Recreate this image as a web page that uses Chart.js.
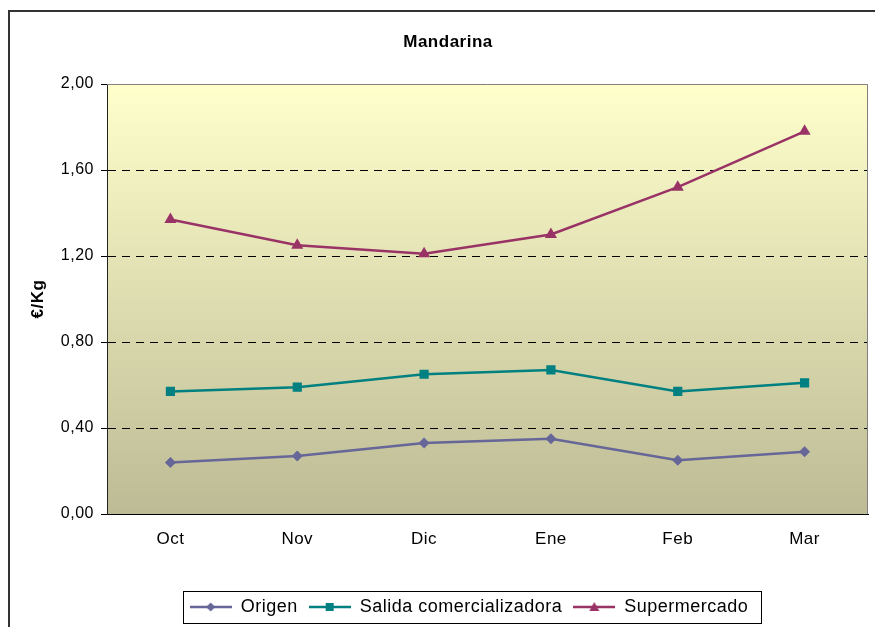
<!DOCTYPE html>
<html lang="es">
<head>
  <meta charset="UTF-8" />
  <title>Mandarina</title>
  <script src="https://cdn.jsdelivr.net/npm/chart.js"></script>
  <style>
    body { margin: 0; background: #fff; }
    canvas { display: block; }
  </style>
</head>
<body>
  <canvas id="precios" width="875" height="627"></canvas>

  <script>
    const meses = ["Oct", "Nov", "Dic", "Ene", "Feb", "Mar"];
    const origen = [0.24, 0.27, 0.33, 0.35, 0.25, 0.29];
    const salidaComercializadora = [0.57, 0.59, 0.65, 0.67, 0.57, 0.61];
    const supermercado = [1.37, 1.25, 1.21, 1.30, 1.52, 1.78];
    const yTicks = [0, 0.4, 0.8, 1.2, 1.6, 2.0];

    const FONT = "'Liberation Sans', Arial, sans-serif";
    const legendShiftX = 21;

    // small line + marker image used as the legend symbol
    function legendIcon(color, shape) {
      const c = document.createElement("canvas");
      c.width = 42; c.height = 12;
      const g = c.getContext("2d");
      g.strokeStyle = color;
      g.lineWidth = 2.5;
      g.beginPath(); g.moveTo(0, 6); g.lineTo(42, 6); g.stroke();
      g.fillStyle = color;
      g.beginPath();
      if (shape === "diamond") {
        g.moveTo(21, 1.5); g.lineTo(25.5, 6); g.lineTo(21, 10.5); g.lineTo(16.5, 6);
      } else if (shape === "square") {
        g.rect(17, 2, 8, 8);
      } else {
        g.moveTo(21, 1); g.lineTo(26, 10); g.lineTo(16, 10);
      }
      g.closePath();
      g.fill();
      return c;
    }

    const legendIcons = [
      legendIcon("#666699", "diamond"),
      legendIcon("#008080", "square"),
      legendIcon("#993366", "triangle")
    ];

    const decor = {
      id: "decor",
      afterInit(chart) {
        // slightly wider text run
        chart.ctx.letterSpacing = "0.5px";
      },
      afterLayout(chart) {
        const lg = chart.legend;
        lg.left += legendShiftX;
        lg.right += legendShiftX;
        lg.legendHitBoxes.forEach(h => { h.left += legendShiftX; });
      },
      beforeDraw(chart) {
        const { ctx, chartArea: a } = chart;
        ctx.save();
        // outer frame
        ctx.strokeStyle = "#333";
        ctx.lineWidth = 2;
        ctx.strokeRect(9, 11, 920, 700);
        // plot area background
        const grad = ctx.createLinearGradient(0, a.top, 0, a.bottom);
        grad.addColorStop(0, "#FFFFCC");
        grad.addColorStop(1, "#BDBB95");
        ctx.fillStyle = grad;
        ctx.fillRect(a.left, a.top, a.right - a.left, a.bottom - a.top);
        ctx.restore();
      },
      beforeDatasetsDraw(chart) {
        const { ctx, chartArea: a } = chart;
        ctx.save();
        ctx.strokeStyle = "#808080";
        ctx.lineWidth = 1;
        ctx.beginPath();
        ctx.moveTo(a.left, a.top + 0.5);
        ctx.lineTo(a.right - 0.5, a.top + 0.5);
        ctx.lineTo(a.right - 0.5, a.bottom);
        ctx.stroke();
        ctx.restore();
      },
      afterDraw(chart) {
        const { ctx } = chart;
        const boxes = chart.legend.legendHitBoxes;
        if (!boxes.length) return;
        const x0 = Math.min(...boxes.map(b => b.left)) - 7;
        const x1 = Math.max(...boxes.map(b => b.left + b.width)) + 12;
        const y0 = boxes[0].top - 7;
        const y1 = boxes[0].top + boxes[0].height + 7;
        ctx.save();
        ctx.strokeStyle = "#000";
        ctx.lineWidth = 1;
        ctx.strokeRect(Math.round(x0) + 0.5, Math.round(y0) + 0.5, Math.round(x1 - x0), Math.round(y1 - y0));
        ctx.restore();
      }
    };

    function serie(label, data, color, pointStyle, radius) {
      return {
        label,
        data,
        borderColor: color,
        backgroundColor: color,
        borderWidth: 2.5,
        pointStyle,
        pointRadius: radius,
        pointBorderWidth: 0,
        pointBackgroundColor: color,
        tension: 0
      };
    }

    new Chart(document.getElementById("precios"), {
      type: "line",
      data: {
        labels: meses,
        datasets: [
          serie("Origen", origen, "#666699", "rectRot", 5.5),
          serie("Salida comercializadora", salidaComercializadora, "#008080", "rect", 6.5),
          serie("Supermercado", supermercado, "#993366", "triangle", 7)
        ]
      },
      options: {
        responsive: false,
        devicePixelRatio: 1,
        animation: false,
        layout: { padding: { left: 27, right: 6, top: 0, bottom: 1 } },
        scales: {
          x: {
            offset: true,
            afterFit: s => { s.height = 73; },
            grid: { display: false, drawTicks: false },
            border: { display: true, color: "#000", width: 1 },
            ticks: { color: "#000", font: { family: FONT, size: 17 }, padding: 15 }
          },
          y: {
            min: 0,
            max: 2,
            afterFit: s => { s.width = 80; },
            afterBuildTicks: s => { s.ticks = yTicks.map(v => ({ value: v })); },
            grid: {
              color: c => (c.tick && (c.tick.value === 0 || c.tick.value === 2)) ? "rgba(0,0,0,0)" : "#000",
              tickColor: "#000",
              tickLength: 6,
              tickBorderDash: [],
              lineWidth: 1
            },
            border: { display: true, color: "#222", width: 1, dash: [8, 6] },
            ticks: {
              color: "#000",
              font: { family: FONT, size: 16 },
              padding: 7,
              callback: v => v.toFixed(2).replace(".", ",")
            },
            title: {
              display: true,
              text: "€/Kg",
              color: "#000",
              font: { family: FONT, size: 17, weight: "bold" },
              padding: { top: 1, bottom: 0 }
            }
          }
        },
        plugins: {
          title: {
            display: true,
            text: "Mandarina",
            color: "#000",
            font: { family: FONT, size: 17, weight: "bold" },
            padding: { top: 32, bottom: 31.6 }
          },
          legend: {
            position: "bottom",
            labels: {
              color: "#000",
              font: { family: FONT, size: 18 },
              usePointStyle: true,
              pointStyleWidth: 42,
              padding: 11,
              generateLabels(chart) {
                const items = Chart.defaults.plugins.legend.labels.generateLabels(chart);
                items.forEach((it, i) => { it.pointStyle = legendIcons[i]; });
                return items;
              }
            }
          },
          tooltip: { enabled: false }
        }
      },
      plugins: [decor]
    });
  </script>
</body>
</html>
